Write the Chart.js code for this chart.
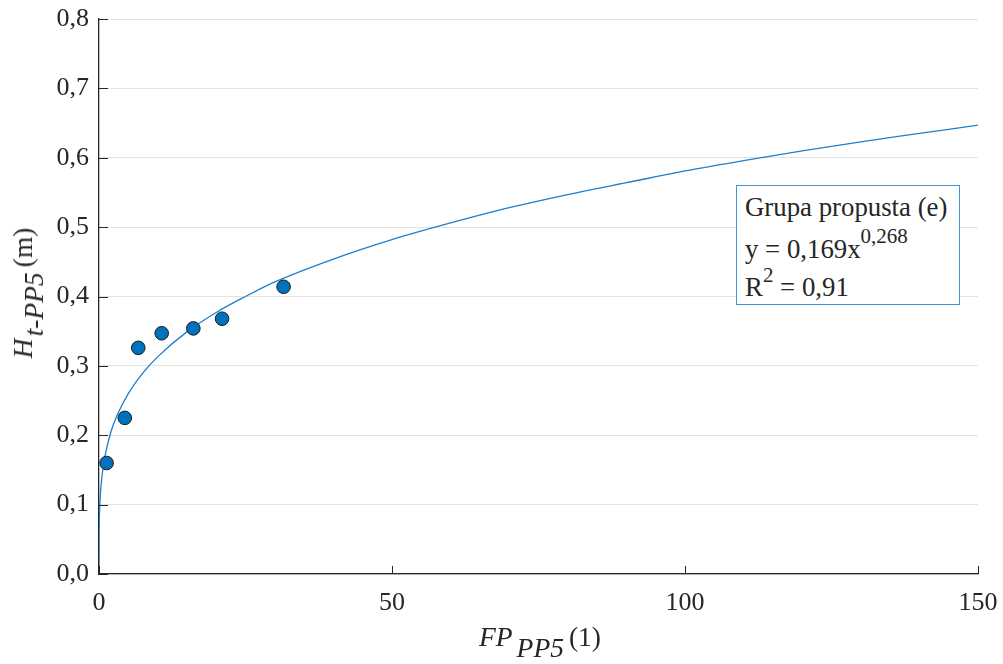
<!DOCTYPE html>
<html>
<head>
<meta charset="utf-8">
<script src="https://cdn.jsdelivr.net/npm/chart.js@4"></script>
<style>
  html, body { margin: 0; padding: 0; background: #fff; }
  #wrap { position: relative; width: 1003px; height: 664px; font-family: "Liberation Serif", "Times New Roman", serif; color: #262626; }
  #wrap canvas { position: absolute; left: 0; top: 0; }
  .t { position: absolute; font-size: 26px; line-height: 26px; white-space: nowrap; }
  .ttl { font-size: 27.5px; }
  .lg { font-size: 26.8px; }
  .sub { position: relative; top: 11px; font-style: italic; }
  .sup { position: relative; font-size: 21px; }
  #legend { position: absolute; left: 736px; top: 185px; width: 224px; height: 120px; box-sizing: border-box; border: 1.5px solid #3f93d4; background: #fff; }
</style>
</head>
<body>
<div id="wrap">
  <canvas id="c" width="1003" height="664"></canvas>
  <div class="t ttl" id="xtitle" style="left:540px; top:624px; transform:translateX(-50%);"><i>FP</i><span class="sub" style="margin-left:4px;">PP5</span><span style="margin-left:5px;">(1)</span></div>
  <div class="t ttl" id="ytitle" style="left:23px; top:293px; transform:translate(-50%,-50%) rotate(-90deg);"><i>H</i><span class="sub" style="margin-left:2px;">t-PP5</span><span style="margin-left:5px;">(m)</span></div>
  <div id="legend"></div>
  <div class="t lg" style="left:745px; top:194px;">Grupa propusta (e)</div>
  <div class="t lg" style="left:745px; top:236px;">y = 0,169x<span class="sup" style="top:-15px;">0,268</span></div>
  <div class="t lg" style="left:745px; top:274px;">R<span class="sup" style="top:-14px;">2</span> = 0,91</div>
</div>
<script>
const pointsX = [1.3, 4.4, 6.7, 10.7, 16.1, 21.0, 31.5];
const pointsY = [0.160, 0.225, 0.326, 0.347, 0.354, 0.368, 0.414];

const fitX = [0, 0.001, 0.01, 0.05, 0.1, 0.25, 0.5, 1, 2, 3, 5, 7.5, 10, 15, 20, 25, 30, 40, 50, 60, 70, 80, 90, 100, 110, 120, 130, 140, 150];
const fitY = [0, 0.027, 0.049, 0.076, 0.091, 0.117, 0.140, 0.169, 0.204, 0.227, 0.260, 0.290, 0.313, 0.349, 0.377, 0.400, 0.421, 0.454, 0.482, 0.506, 0.528, 0.547, 0.564, 0.581, 0.596, 0.610, 0.623, 0.635, 0.647];

// Axis ticks
const xTicks = [0, 50, 100, 150];
const yTicks = [0, 0.1, 0.2, 0.3, 0.4, 0.5, 0.6, 0.7, 0.8];

const AXIS_COLOR = '#262626';

const innerTicks = {
  id: 'innerTicks',
  afterDatasetsDraw(chart) {
    const ctx = chart.ctx, a = chart.chartArea;
    const xs = chart.scales.x, ys = chart.scales.y;
    ctx.save();
    ctx.strokeStyle = AXIS_COLOR;
    ctx.lineWidth = 1;
    ctx.beginPath();
    yTicks.forEach(v => {
      const y = Math.round(ys.getPixelForValue(v)) + 0.5;
      ctx.moveTo(a.left, y); ctx.lineTo(a.left + 9, y);
    });
    xTicks.forEach(v => {
      const x = Math.round(xs.getPixelForValue(v)) + 0.5;
      ctx.moveTo(x, a.bottom); ctx.lineTo(x, a.bottom - 8);
    });
    ctx.stroke();
    ctx.restore();
  }
};

new Chart(document.getElementById('c'), {
  type: 'scatter',
  data: {
    datasets: [
      {
        label: 'data',
        data: pointsX.map((x, i) => ({ x: x, y: pointsY[i] })),
        backgroundColor: '#0072BD',
        borderColor: '#1a1a1a',
        borderWidth: 1,
        pointRadius: 6.8,
        pointHoverRadius: 6.8
      },
      {
        label: 'fit',
        data: fitX.map((x, i) => ({ x: x, y: fitY[i] })),
        showLine: true,
        borderColor: '#1f7fcb',
        borderWidth: 1.3,
        pointRadius: 0,
        cubicInterpolationMode: 'monotone',
        fill: false
      }
    ]
  },
  options: {
    responsive: false,
    animation: false,
    events: [],
    layout: { padding: { left: 0, top: 19, right: 25, bottom: 0 } },
    plugins: { legend: { display: false }, tooltip: { enabled: false } },
    scales: {
      x: {
        type: 'linear', min: 0, max: 150,
        afterFit(s) { s.height = 90; s.paddingLeft = 0; s.paddingRight = 0; },
        afterBuildTicks(s) { s.ticks = xTicks.map(v => ({ value: v })); },
        grid: { display: false },
        border: { display: true, color: AXIS_COLOR, width: 1.3 },
        ticks: {
          padding: 6,
          color: AXIS_COLOR,
          font: { family: '"Liberation Serif", "Times New Roman", serif', size: 26 },
          callback: v => String(v)
        }
      },
      y: {
        type: 'linear', min: 0, max: 0.8,
        afterFit(s) { s.width = 99; s.paddingTop = 0; s.paddingBottom = 0; },
        afterBuildTicks(s) { s.ticks = yTicks.map(v => ({ value: v })); },
        grid: { display: true, color: '#e2e2e2', lineWidth: 1, drawTicks: false },
        border: { display: true, color: AXIS_COLOR, width: 1.3 },
        ticks: {
          padding: 10,
          color: AXIS_COLOR,
          font: { family: '"Liberation Serif", "Times New Roman", serif', size: 26 },
          callback: v => Number(v).toFixed(1).replace('.', ',')
        }
      }
    }
  },
  plugins: [innerTicks]
});
</script>
</body>
</html>
